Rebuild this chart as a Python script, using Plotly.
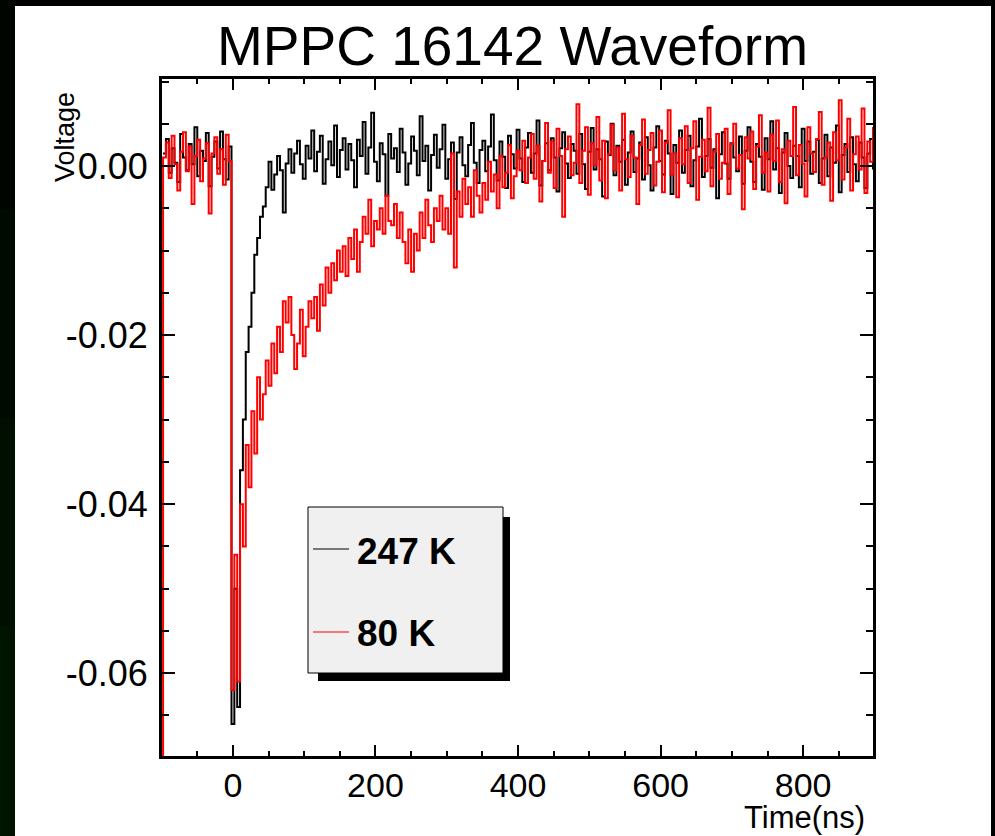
import plotly.graph_objects as go

# ---------------- data (voltage in mV, one sample every 4 ns) ----------------
T0_NS = -98          # time of first sample
DT_NS = 4            # sampling step

# 247 K waveform
black_mv = [
    # pre-pulse baseline (t = -98 .. -6)
    1.5, 3.2, -0.8, 2.1, 0.4, -1.9, 3.8, 1.0, -0.5, 2.6, 0.2, 4.6,
    -1.2, 1.8, 0.6, 3.9, -2.4, 1.1, 2.9, -0.3, 4.1, 0.8, -1.6, 2.3,
    # pulse and fast recovery (t = -2 .. 50)
    -66, -50, -64, -36, -30, -22, -19, -15, -10.5, -8.5, -6, -4.8, -2.5, 0.5,
    # baseline (t = 54 .. 902)
    -2.8, -1.0, 1.2, -0.5, -5.5, 0.3, 2.0, -0.8, 1.5, 3.0, 0.2, -1.5,
    2.4, 0.9, 4.2, -0.6, 1.7, 3.6, -2.1, 0.8, 2.9, 0.1, 4.8, -1.3,
    1.9, 3.3, -0.4, 2.6, 0.7, -2.5, 3.1, 1.2, 5.2, -0.9, 2.2, 6.3,
    0.5, -1.8, 2.7, 1.4, -3.5, 3.8, 0.9, 2.1, -0.7, 4.4, 1.6, -2.2,
    0.3, 3.5, 1.8, -1.1, 5.9, 0.6, 2.4, -2.9, 1.3, 3.7, -0.2, 2.0,
    4.9, -1.5, 0.8, 2.8, -3.9, 1.6, 3.4, 0.1, -1.2, 2.5, 5.1, 0.4,
    -2.0, 1.9, 3.0, -0.6, 2.3, 6.1, 0.7, -1.7, 2.9, 1.1, -2.6, 3.6,
    1.4, -0.3, 4.3, 0.9, -1.9, 2.2, 3.9, -0.8, 1.5, 5.4, -2.3, 0.6,
    2.7, -0.5, 3.3, 1.0, -3.0, 2.1, 4.0, 0.3, -1.4, 2.6, 1.8, -0.9,
    3.8, 0.2, -2.7, 1.7, 4.5, -0.4, 2.0, 0.8, -3.6, 2.9, 1.3, 5.0,
    -1.1, 2.4, 0.5, 3.1, -2.2, 1.6, 4.1, -0.7, 0.9, 2.8, -1.6, 3.4,
    0.1, -2.9, 2.2, 4.7, 0.6, -1.0, 3.0, 1.5, -3.3, 2.5, 0.4, 4.2,
    -0.8, 1.9, 3.6, -2.4, 0.7, 2.3, 5.6, -1.3, 1.2, 3.2, -0.2, 2.0,
    -3.8, 1.4, 4.0, 0.3, -1.5, 2.7, 1.0, -0.6, 3.5, -2.1, 1.8, 4.6,
    0.5, -1.9, 2.6, 1.1, -2.8, 3.3, 0.8, 5.3, -0.4, 2.1, -3.2, 1.6,
    3.9, 0.0, -1.4, 2.4, 1.2, -2.5, 4.4, 0.6, 2.9, -0.9, 1.7, 3.1,
    -2.0, 0.9, 3.7, -1.2, 2.2, 0.4, 4.8, -3.1, 1.3, 2.6, -0.7, 3.4,
    0.2, -1.8, 2.8, 1.0, -2.6, 1.5, 3.2, -0.3, -3.5,
]

# 80 K waveform
red_first_mv = -75   # first recorded level (below the visible range)
red_mv = [
    # pre-pulse baseline (t = -98 .. -6)
    1.0, 2.8, -1.4, 3.6, 0.2, -2.9, 1.7, 4.0, -0.6, 2.3, -4.5, 1.2,
    3.1, -1.8, 0.9, 2.7, -5.6, 1.5, 3.4, -0.9, 2.0, -2.2, 3.7, 0.6,
    # pulse (t = -2)
    -62,
    # slow recovery (t = 2 .. 410)
    -46, -61, -40, -45, -33, -38, -29, -34, -25, -30,
    -27, -23, -26, -21, -24.5, -19, -22, -16, -18.5, -15.5,
    -20, -24, -21, -17, -22.5, -19, -16, -18, -15.5, -19.5,
    -14, -16.5, -12, -15, -11.5, -13.5, -10, -12.5, -9.5, -13,
    -8.5, -11, -7.5, -12.5, -9, -6, -8, -4, -9.5, -6.5,
    -7.5, -5, -8, -3.5, -6.5, -7, -4.5, -8.5, -5.5, -9,
    -11.5, -7.5, -12.5, -8, -10, -5.5, -8.5, -4, -7, -9,
    -5, -6.5, -3.5, -7.5, -5, -8, 1.5, -12, -3, -6,
    -1.5, -4.5, -2.5, -6, -0.5, -3.5, -5.5, -2, -4, 0.5,
    -3, -1, -5, 1.2, -2.5, -0.8, 2.5, -3.8, -1.2, 1.8,
    -0.5, 3.0, -2,
    # baseline (t = 414 .. 902)
    1.0, 3.8, -1.5, 2.4, -4.2, 0.6, 5.1, -0.8, 2.9, -2.6, 4.4, 1.2,
    -6.0, 2.0, 3.5, -1.1, 0.4, 7.3, -2.0, 1.8, 4.6, -3.4, 2.7, 0.1,
    5.8, -1.7, 3.0, -3.8, 1.4, 4.9, -0.5, 2.2, -2.9, 6.2, 0.8, -1.3,
    3.6, 1.0, -4.5, 2.5, 5.5, -0.9, 1.9, 3.9, -2.3, 0.5, 4.2, -3.1,
    2.8, 6.6, -1.0, 1.5, -3.7, 3.3, 0.2, 4.7, -2.0, 2.1, 5.3, -4.0,
    1.1, 3.1, -0.6, 6.9, -2.4, 1.7, 3.8, -1.5, 0.4, 4.4, -3.3, 2.6,
    5.0, -0.3, 1.3, -5.1, 3.4, 0.9, 4.1, -2.7, 2.3, 6.0, -0.8, 1.6,
    -3.0, 3.7, 0.6, 5.4, -1.9, 2.0, -4.4, 3.0, 1.2, 7.0, -1.1, 2.5,
    0.3, -3.6, 4.6, 1.5, -0.7, 3.2, 6.4, -2.2, 1.0, 2.8, -4.1, 4.0,
    0.7, 7.8, -1.6, 2.2, 5.6, -2.9, 1.4, 3.5, -0.4, 6.8, -3.2, 2.9,
    0.5, 4.5, 1.8,
]

series_names = ["247 K", "80 K"]
series_colors = ["#000000", "#ff0000"]

x_range = [-99.5, 898]
y_range = [-0.0698, 0.0103]
x_tick_vals = [0, 200, 400, 600, 800]
x_tick_text = ["0", "200", "400", "600", "800"]
y_tick_vals = [-0.06, -0.04, -0.02, 0.0]
y_tick_text = ["-0.06", "-0.04", "-0.02", "0.00"]

title_text = "MPPC 16142 Waveform"
x_title = "Time(ns)"
y_title = "Voltage"

# ---------------- build ----------------
t_black = [T0_NS + DT_NS * i for i in range(len(black_mv))]
v_black = [v / 1000.0 for v in black_mv]
t_red = [T0_NS] + [T0_NS + DT_NS * i for i in range(len(red_mv))]
v_red = [red_first_mv / 1000.0] + [v / 1000.0 for v in red_mv]

W, H = 995, 836
L, R, T, B = 162, 873, 79, 756


def px(x):
    return (x - L) / (R - L)


def py(y):
    return (B - y) / (B - T)


FONT = "Liberation Sans, Arial, Helvetica, sans-serif"

fig = go.Figure()
fig.add_trace(go.Scatter(x=t_black, y=v_black, mode="lines", name=series_names[0],
                         line=dict(color=series_colors[0], width=2, shape="hv"),
                         showlegend=False))
fig.add_trace(go.Scatter(x=t_red, y=v_red, mode="lines", name=series_names[1],
                         line=dict(color=series_colors[1], width=2, shape="hv"),
                         showlegend=False))

axis_common = dict(showline=True, linecolor="black", linewidth=3, mirror="ticks",
                   ticks="inside", tickcolor="black", tickwidth=1.5,
                   showgrid=False, zeroline=False)

fig.update_xaxes(range=x_range, tickmode="array", tickvals=x_tick_vals, ticktext=x_tick_text,
                 ticklen=11, ticklabelstandoff=-3,
                 tickfont=dict(family=FONT, size=34, color="black"),
                 minor=dict(dtick=50, tick0=0, ticks="inside", ticklen=5,
                            tickwidth=1.5, tickcolor="black"),
                 **axis_common)
fig.update_yaxes(range=y_range, tickmode="array", tickvals=y_tick_vals, ticktext=y_tick_text,
                 ticklen=13, ticklabelstandoff=4,
                 tickfont=dict(family=FONT, size=36, color="black"),
                 minor=dict(dtick=0.005, tick0=0, ticks="inside", ticklen=7,
                            tickwidth=1.5, tickcolor="black"),
                 **axis_common)

shapes = [
    # white canvas inside the black border
    dict(type="rect", xref="paper", yref="paper", x0=px(15), x1=px(991), y0=py(836), y1=py(6),
         fillcolor="white", line=dict(width=0), layer="below"),
]
# faint dark-green tint of the left border towards the bottom
border_greens = ["#000500", "#000a00", "#000f00", "#001400"]
for k, col in enumerate(border_greens):
    shapes.append(dict(type="rect", xref="paper", yref="paper",
                       x0=px(0), x1=px(15), y0=py(836 - 209 * k), y1=py(836 - 209 * (k + 1)),
                       fillcolor=border_greens[len(border_greens) - 1 - k], line=dict(width=0),
                       layer="below"))
shapes += [
    # legend shadow
    dict(type="rect", xref="paper", yref="paper", x0=px(318), x1=px(510), y0=py(681), y1=py(517),
         fillcolor="black", line=dict(width=0), layer="above"),
    # legend box
    dict(type="rect", xref="paper", yref="paper", x0=px(308), x1=px(503), y0=py(673), y1=py(507),
         fillcolor="#f0f0f0", line=dict(color="black", width=1), layer="above"),
    # legend samples
    dict(type="line", xref="paper", yref="paper", x0=px(313), x1=px(349), y0=py(549), y1=py(549),
         line=dict(color=series_colors[0], width=1.2), layer="above"),
    dict(type="line", xref="paper", yref="paper", x0=px(313), x1=px(349), y0=py(632), y1=py(632),
         line=dict(color=series_colors[1], width=1.2), layer="above"),
]

annotations = [
    dict(text=title_text, xref="paper", yref="paper", x=px(512.5), y=py(46),
         xanchor="center", yanchor="middle", showarrow=False,
         font=dict(family=FONT, size=55, color="black")),
    dict(text=x_title, xref="paper", yref="paper", x=px(867), y=py(817),
         xanchor="right", yanchor="middle", showarrow=False,
         font=dict(family=FONT, size=31, color="black")),
    dict(text=y_title, xref="paper", yref="paper", x=px(65), y=py(90),
         xanchor="center", yanchor="top", textangle=-90, showarrow=False,
         font=dict(family=FONT, size=27, color="black")),
    dict(text="<b>" + series_names[0] + "</b>", xref="paper", yref="paper", x=px(355), y=py(551),
         xanchor="left", yanchor="middle", showarrow=False,
         font=dict(family=FONT, size=37, color="black")),
    dict(text="<b>" + series_names[1] + "</b>", xref="paper", yref="paper", x=px(355), y=py(633),
         xanchor="left", yanchor="middle", showarrow=False,
         font=dict(family=FONT, size=37, color="black")),
]

fig.update_layout(
    width=W, height=H,
    margin=dict(l=L, r=W - R, t=T, b=H - B, pad=0),
    paper_bgcolor="black", plot_bgcolor="white",
    shapes=shapes, annotations=annotations,
    showlegend=False,
    font=dict(family=FONT, color="black"),
)

fig.write_html("out.html",
               config={"displayModeBar": False},
               post_script="document.body.style.margin='0';document.body.style.overflow='hidden';")
